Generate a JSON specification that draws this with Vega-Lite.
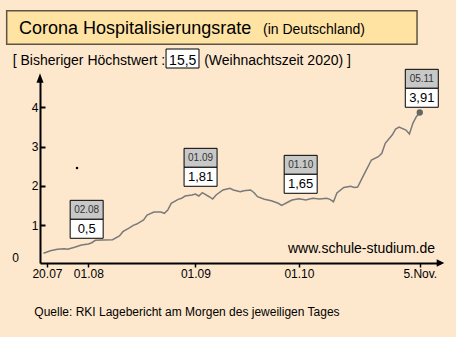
{
  "$schema": "https://vega.github.io/schema/vega-lite/v6.json",
  "width": 400,
  "height": 183,
  "autosize": "none",
  "padding": {"left": 40, "top": 80, "right": 16, "bottom": 74},
  "background": "#FDE8CD",
  "config": {"font": "Liberation Sans", "view": {"stroke": null}},
  "data": {"values": [{}]},
  "datasets": {
    "rate": [
      {"date": "2021-07-19", "value": 0.287},
      {"date": "2021-07-21", "value": 0.353},
      {"date": "2021-07-23", "value": 0.389},
      {"date": "2021-07-25", "value": 0.404},
      {"date": "2021-07-26", "value": 0.389},
      {"date": "2021-07-28", "value": 0.44},
      {"date": "2021-07-30", "value": 0.498},
      {"date": "2021-08-01", "value": 0.524},
      {"date": "2021-08-02", "value": 0.557},
      {"date": "2021-08-03", "value": 0.618},
      {"date": "2021-08-05", "value": 0.625},
      {"date": "2021-08-08", "value": 0.633},
      {"date": "2021-08-10", "value": 0.727},
      {"date": "2021-08-11", "value": 0.837},
      {"date": "2021-08-13", "value": 0.938},
      {"date": "2021-08-14", "value": 0.999},
      {"date": "2021-08-15", "value": 1.032},
      {"date": "2021-08-17", "value": 1.134},
      {"date": "2021-08-18", "value": 1.261},
      {"date": "2021-08-20", "value": 1.337},
      {"date": "2021-08-22", "value": 1.337},
      {"date": "2021-08-23", "value": 1.304},
      {"date": "2021-08-24", "value": 1.388},
      {"date": "2021-08-25", "value": 1.559},
      {"date": "2021-08-27", "value": 1.66},
      {"date": "2021-08-28", "value": 1.686},
      {"date": "2021-08-29", "value": 1.744},
      {"date": "2021-08-31", "value": 1.77},
      {"date": "2021-09-01", "value": 1.795},
      {"date": "2021-09-02", "value": 1.744},
      {"date": "2021-09-03", "value": 1.828},
      {"date": "2021-09-05", "value": 1.726},
      {"date": "2021-09-06", "value": 1.668},
      {"date": "2021-09-07", "value": 1.77},
      {"date": "2021-09-09", "value": 1.897},
      {"date": "2021-09-11", "value": 1.94},
      {"date": "2021-09-12", "value": 1.897},
      {"date": "2021-09-14", "value": 1.854},
      {"date": "2021-09-15", "value": 1.879},
      {"date": "2021-09-17", "value": 1.897},
      {"date": "2021-09-18", "value": 1.828},
      {"date": "2021-09-19", "value": 1.726},
      {"date": "2021-09-21", "value": 1.66},
      {"date": "2021-09-23", "value": 1.625},
      {"date": "2021-09-25", "value": 1.559},
      {"date": "2021-09-26", "value": 1.503},
      {"date": "2021-09-28", "value": 1.599},
      {"date": "2021-09-29", "value": 1.643},
      {"date": "2021-10-01", "value": 1.673},
      {"date": "2021-10-03", "value": 1.643},
      {"date": "2021-10-05", "value": 1.686},
      {"date": "2021-10-07", "value": 1.668},
      {"date": "2021-10-09", "value": 1.686},
      {"date": "2021-10-10", "value": 1.66},
      {"date": "2021-10-11", "value": 1.599},
      {"date": "2021-10-12", "value": 1.82},
      {"date": "2021-10-14", "value": 1.96},
      {"date": "2021-10-16", "value": 1.991},
      {"date": "2021-10-17", "value": 1.96},
      {"date": "2021-10-18", "value": 1.973},
      {"date": "2021-10-20", "value": 2.321},
      {"date": "2021-10-22", "value": 2.66},
      {"date": "2021-10-24", "value": 2.743},
      {"date": "2021-10-25", "value": 2.83},
      {"date": "2021-10-26", "value": 3.084},
      {"date": "2021-10-28", "value": 3.295},
      {"date": "2021-10-29", "value": 3.448},
      {"date": "2021-10-30", "value": 3.499},
      {"date": "2021-11-01", "value": 3.422},
      {"date": "2021-11-02", "value": 3.32},
      {"date": "2021-11-03", "value": 3.593},
      {"date": "2021-11-04", "value": 3.76},
      {"date": "2021-11-05", "value": 3.867}
    ],
    "notes": [
      {"date": "2021-07-31T12:00:00Z", "level": 1.152, "day": "02.08", "rate": "0,5"},
      {"date": "2021-09-02T12:00:00Z", "level": 2.474, "day": "01.09", "rate": "1,81"},
      {"date": "2021-10-01T12:00:00Z", "level": 2.296, "day": "01.10", "rate": "1,65"},
      {"date": "2021-11-05T14:00:00Z", "level": 4.483, "day": "05.11", "rate": "3,91"}
    ]
  },
  "layer": [
    {
      "mark": {"type": "rect", "fill": "#FFE3A3", "stroke": "#5E5444", "strokeWidth": 1.5},
      "encoding": {
        "x": {"datum": {"year": 2021, "month": 7, "date": 8, "hours": 8, "utc": true}, "type": "temporal"},
        "x2": {"datum": {"year": 2021, "month": 11, "date": 4, "hours": 5, "utc": true}},
        "y": {"datum": 6.456, "type": "quantitative"},
        "y2": {"datum": 5.601}
      }
    },
    {
      "mark": {"type": "text", "text": "Corona Hospitalisierungsrate", "fontSize": 18, "align": "left", "baseline": "alphabetic", "color": "#000000"},
      "encoding": {
        "x": {"datum": {"year": 2021, "month": 7, "date": 11, "hours": 22, "utc": true}, "type": "temporal"},
        "y": {"datum": 5.856, "type": "quantitative"}
      }
    },
    {
      "mark": {"type": "text", "text": "(in Deutschland)", "fontSize": 14, "align": "left", "baseline": "alphabetic", "color": "#000000"},
      "encoding": {
        "x": {"datum": {"year": 2021, "month": 9, "date": 20, "hours": 14, "utc": true}, "type": "temporal"},
        "y": {"datum": 5.876, "type": "quantitative"}
      }
    },
    {
      "mark": {"type": "rect", "fill": "#FFFFFF", "stroke": "#000000", "strokeWidth": 1},
      "encoding": {
        "x": {"datum": {"year": 2021, "month": 8, "date": 23, "hours": 12, "utc": true}, "type": "temporal"},
        "x2": {"datum": {"year": 2021, "month": 9, "date": 2, "hours": 1, "utc": true}},
        "y": {"datum": 5.482, "type": "quantitative"},
        "y2": {"datum": 4.999}
      }
    },
    {
      "mark": {"type": "text", "text": "[ Bisheriger Höchstwert : 15,5 \u00a0(Weihnachtszeit 2020) ]", "fontSize": 14, "align": "left", "baseline": "alphabetic", "color": "#000000"},
      "encoding": {
        "x": {"datum": {"year": 2021, "month": 7, "date": 10, "hours": 2, "utc": true}, "type": "temporal"},
        "y": {"datum": 5.075, "type": "quantitative"}
      }
    },
    {
      "data": {"name": "rate"},
      "mark": {"type": "line", "color": "#7A7A7A", "strokeWidth": 1.5},
      "encoding": {
        "x": {
          "field": "date",
          "type": "temporal",
          "scale": {
            "type": "utc",
            "domain": [
              {"year": 2021, "month": 7, "date": 17, "hours": 23, "minutes": 37, "utc": true},
              {"year": 2021, "month": 11, "date": 10, "hours": 20, "minutes": 38, "utc": true}
            ]
          },
          "axis": {
            "title": null,
            "grid": false,
            "values": [
              {"year": 2021, "month": 7, "date": 20, "utc": true},
              {"year": 2021, "month": 8, "date": 1, "utc": true},
              {"year": 2021, "month": 9, "date": 1, "utc": true},
              {"year": 2021, "month": 10, "date": 1, "utc": true},
              {"year": 2021, "month": 11, "date": 5, "utc": true}
            ],
            "labelExpr": "utcFormat(datum.value, '%d.%m') == '05.11' ? '5.Nov.' : utcFormat(datum.value, '%d.%m')",
            "domainColor": "#000000",
            "domainWidth": 2,
            "tickColor": "#000000",
            "tickWidth": 1.5,
            "tickSize": 4,
            "labelFontSize": 12,
            "labelColor": "#000000",
            "labelPadding": 1,
            "labelFlush": false,
            "labelOverlap": false
          }
        },
        "y": {
          "field": "value",
          "type": "quantitative",
          "scale": {"domain": [0.041, 4.694], "nice": false, "zero": false},
          "axis": {
            "title": null,
            "grid": false,
            "values": [1, 2, 3, 4],
            "domainColor": "#000000",
            "domainWidth": 2,
            "tickColor": "#000000",
            "tickWidth": 2,
            "tickSize": -5,
            "labelPadding": 7,
            "labelFontSize": 12,
            "labelColor": "#000000",
            "labelFlush": false,
            "labelOverlap": false
          }
        }
      }
    },
    {
      "mark": {"type": "text", "text": "0", "fontSize": 12, "align": "center", "baseline": "middle", "color": "#000000"},
      "encoding": {
        "x": {"datum": {"year": 2021, "month": 7, "date": 10, "hours": 22, "utc": true}, "type": "temporal"},
        "y": {"datum": 0.16, "type": "quantitative"}
      }
    },
    {
      "data": {"values": [{"date": "2021-11-05", "value": 3.867}]},
      "mark": {"type": "point", "filled": true, "color": "#666666", "opacity": 1, "size": 40},
      "encoding": {
        "x": {"field": "date", "type": "temporal"},
        "y": {"field": "value", "type": "quantitative"}
      }
    },
    {
      "mark": {"type": "point", "shape": "M0,-1L-0.75,1H0.75Z", "filled": true, "color": "#000000", "opacity": 1, "size": 88},
      "encoding": {
        "x": {"datum": {"year": 2021, "month": 7, "date": 17, "hours": 23, "minutes": 37, "utc": true}, "type": "temporal"},
        "y": {"datum": 4.745, "type": "quantitative"}
      }
    },
    {
      "mark": {"type": "point", "shape": "M1,0L-1,-0.96V0.96Z", "filled": true, "color": "#000000", "opacity": 1, "size": 58},
      "encoding": {
        "x": {"datum": {"year": 2021, "month": 11, "date": 11, "utc": true}, "type": "temporal"},
        "y": {"datum": 0.041, "type": "quantitative"}
      }
    },
    {
      "mark": {"type": "point", "shape": "square", "filled": true, "color": "#000000", "opacity": 1, "size": 5},
      "encoding": {
        "x": {"datum": {"year": 2021, "month": 7, "date": 28, "hours": 17, "utc": true}, "type": "temporal"},
        "y": {"datum": 2.456, "type": "quantitative"}
      }
    },
    {
      "data": {"name": "notes"},
      "mark": {"type": "point", "shape": "M-1,-1.15H1V0H-1Z", "filled": true, "color": "#C8C8C8", "stroke": "#000000", "strokeWidth": 1, "opacity": 1, "size": 1089},
      "encoding": {
        "x": {"field": "date", "type": "temporal"},
        "y": {"field": "level", "type": "quantitative"}
      }
    },
    {
      "data": {"name": "notes"},
      "mark": {"type": "point", "shape": "M-1,0H1V1.15H-1Z", "filled": true, "color": "#FFFFFF", "stroke": "#000000", "strokeWidth": 1, "opacity": 1, "size": 1089},
      "encoding": {
        "x": {"field": "date", "type": "temporal"},
        "y": {"field": "level", "type": "quantitative"}
      }
    },
    {
      "data": {"name": "notes"},
      "mark": {"type": "text", "fontSize": 10, "color": "#333333", "dy": -9.5, "baseline": "middle"},
      "encoding": {
        "x": {"field": "date", "type": "temporal"},
        "y": {"field": "level", "type": "quantitative"},
        "text": {"field": "day", "type": "nominal"}
      }
    },
    {
      "data": {"name": "notes"},
      "mark": {"type": "text", "fontSize": 13, "color": "#000000", "dy": 10, "baseline": "middle"},
      "encoding": {
        "x": {"field": "date", "type": "temporal"},
        "y": {"field": "level", "type": "quantitative"},
        "text": {"field": "rate", "type": "nominal"}
      }
    },
    {
      "mark": {"type": "text", "text": "www.schule-studium.de", "fontSize": 14, "align": "right", "baseline": "alphabetic", "color": "#000000"},
      "encoding": {
        "x": {"datum": {"year": 2021, "month": 11, "date": 9, "hours": 10, "utc": true}, "type": "temporal"},
        "y": {"datum": 0.287, "type": "quantitative"}
      }
    },
    {
      "mark": {"type": "text", "text": "Quelle: RKI Lagebericht am Morgen des jeweiligen Tages", "fontSize": 12, "align": "left", "baseline": "middle", "color": "#000000"},
      "encoding": {
        "x": {"datum": {"year": 2021, "month": 7, "date": 16, "hours": 8, "utc": true}, "type": "temporal"},
        "y": {"datum": -1.198, "type": "quantitative"}
      }
    }
  ]
}
